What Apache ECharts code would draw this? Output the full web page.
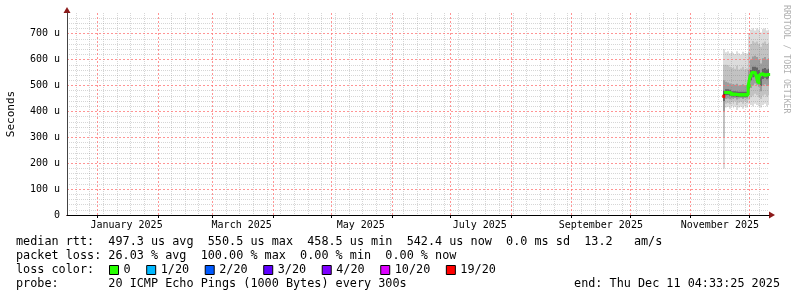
<!DOCTYPE html>
<html>
<head>
<meta charset="utf-8">
<script src="https://cdn.jsdelivr.net/npm/echarts@6/dist/echarts.min.js"></script>
<style>
html, body { margin: 0; padding: 0; background: #fff; }
#main { width: 797px; height: 297px; }
</style>
</head>
<body>
<div id="main"></div>
<script>
// time range of the graph (UTC)
var rangeStart = '2024-12-16T12:00:00Z';
var rangeEnd = '2025-12-11T04:33:25Z';

// one value per day, median rtt and ping spread in microseconds
var days = ['2025-11-18', '2025-11-19', '2025-11-20', '2025-11-21', '2025-11-22', '2025-11-23',
    '2025-11-24', '2025-11-25', '2025-11-26', '2025-11-27', '2025-11-28', '2025-11-29',
    '2025-11-30', '2025-12-01', '2025-12-02', '2025-12-03', '2025-12-04', '2025-12-05',
    '2025-12-06', '2025-12-07', '2025-12-08', '2025-12-09', '2025-12-10', '2025-12-11'];
var median = [458.5, 473, 473, 472, 466, 466, 466, 465, 464, 464, 464, 464, 464,
    499, 537, 550.5, 549, 538, 511, 543, 544, 540, 541, 542.4];
var lostPings = [19, 0, 0, 0, 0, 0, 0, 0, 0, 0, 0, 0, 0, 0, 0, 0, 0, 0, 0, 0, 0, 0, 0, 0];
var p0   = [180, 415, 418, 410, 420, 412, 418, 405, 415, 418, 410, 420, 415, 428, 425, 420, 430, 425, 420, 415, 425, 430, 420, 425];
var p10  = [300, 430, 432, 428, 435, 430, 438, 425, 433, 436, 430, 438, 432, 445, 455, 460, 468, 462, 455, 448, 460, 465, 458, 462];
var p25  = [400, 448, 450, 447, 450, 448, 452, 446, 450, 452, 448, 452, 450, 470, 490, 500, 508, 503, 495, 478, 500, 505, 498, 502];
var p40  = [440, 462, 463, 460, 458, 457, 458, 456, 456, 456, 455, 456, 456, 488, 520, 532, 535, 530, 522, 498, 525, 530, 524, 528];
var p60  = [480, 486, 486, 484, 478, 478, 478, 477, 476, 476, 476, 476, 476, 515, 560, 572, 572, 570, 560, 535, 565, 568, 562, 565];
var p75  = [520, 515, 512, 508, 505, 506, 503, 507, 500, 502, 505, 500, 502, 560, 600, 612, 615, 610, 600, 585, 605, 610, 600, 605];
var p90  = [580, 580, 578, 572, 568, 572, 565, 576, 562, 566, 572, 562, 566, 630, 660, 672, 666, 670, 660, 650, 665, 670, 660, 665];
var p100 = [640, 628, 632, 625, 630, 626, 622, 632, 625, 620, 630, 626, 624, 700, 715, 720, 712, 720, 715, 705, 718, 720, 712, 715];

// loss legend
var lossLabels = ['0', '1/20', '2/20', '3/20', '4/20', '10/20', '19/20'];
var lossLimits = [0, 1, 2, 3, 4, 10, 19];
var lossColors = ['#26ff00', '#00b8ff', '#0059ff', '#5e00ff', '#7e00ff', '#dd00ff', '#ff0000'];

// axis ticks
var yTicks = [0, 100, 200, 300, 400, 500, 600, 700];
var xLabelDates = ['2025-01-16', '2025-03-16', '2025-05-16', '2025-07-16', '2025-09-16', '2025-11-16'];
var xLabelTexts = ['January 2025', 'March 2025', 'May 2025', 'July 2025', 'September 2025', 'November 2025'];

var textLines = [
    'median rtt:  497.3 us avg  550.5 us max  458.5 us min  542.4 us now  0.0 ms sd  13.2   am/s',
    'packet loss: 26.03 % avg  100.00 % max  0.00 % min  0.00 % now',
    'loss color:',
    'probe:       20 ICMP Echo Pings (1000 Bytes) every 300s'
];
var endText = 'end: Thu Dec 11 04:33:25 2025';

var MONO = "'DejaVu Sans Mono', monospace";
var tStart = Date.parse(rangeStart);
var tEnd = Date.parse(rangeEnd);
var DAY = 86400000;

function ts(s) { return Date.parse(s + 'T00:00:00Z'); }
var times = days.map(ts);

// grid positions: month starts (major) and weeks (minor)
var monthStarts = [];
for (var m = 0; m < 12; m++) monthStarts.push(Date.UTC(2025, m, 1));
var weekLines = [];
for (var w = Date.UTC(2024, 11, 21); w < tEnd; w += 7 * DAY) {
    if (monthStarts.indexOf(w) < 0) weekLines.push(w);
}
var yMinor = [];
for (var v = 20; v < 780; v += 20) if (v % 100 !== 0) yMinor.push(v);
var xLabelPos = xLabelDates.map(ts);

var myChart = echarts.init(document.getElementById('main'));

// smoke: nested bands from widest (light) to narrowest (dark)
var bandColors = ['#dcdcdc', '#c2c2c2', '#9c9c9c', '#646464'];
var smokeData = times.map(function (t, i) {
    return [t, p0[i], p10[i], p25[i], p40[i], p60[i], p75[i], p90[i], p100[i]];
});

var series = [];
series.push({
    type: 'custom', silent: true, z: 1, clip: true,
    encode: { x: 0, y: [1, 2, 3, 4, 5, 6, 7, 8] },
    data: smokeData,
    renderItem: function (params, api) {
        var t = api.value(0);
        var children = [];
        for (var k = 0; k < 4; k++) {
            var a = api.coord([t - DAY / 2, api.value(1 + k)]);
            var b = api.coord([t + DAY / 2, api.value(8 - k)]);
            var x0 = Math.round(a[0]), x1 = Math.round(b[0]);
            children.push({
                type: 'rect',
                shape: { x: x0, y: b[1], width: x1 - x0, height: a[1] - b[1] },
                style: { fill: bandColors[k] }
            });
        }
        return { type: 'group', children: children };
    }
});
// median line
series.push({
    type: 'line', step: 'middle', symbol: 'none', silent: true, z: 5,
    lineStyle: { width: 1, color: '#202020' },
    data: median.map(function (v, i) { return [times[i], v]; })
});
// median coloured by loss
function bucket(l) {
    var b = 0;
    for (var i = 0; i < lossLimits.length; i++) if (l >= lossLimits[i]) b = i;
    return b;
}
lossLabels.forEach(function (name, k) {
    series.push({
        name: name, type: 'line', step: 'middle', z: 6, silent: true,
        color: lossColors[k],
        symbol: 'rect', symbolSize: [3, 3], showSymbol: true,
        lineStyle: { width: 3, color: lossColors[k] },
        itemStyle: { color: lossColors[k] },
        data: median.map(function (v, i) { return [times[i], bucket(lostPings[i]) === k ? v : '-']; })
    });
});

var titles = textLines.map(function (t, i) {
    return {
        text: t, left: 16, top: 236 + i * 14, padding: 0,
        textStyle: { fontFamily: MONO, fontSize: 11.8, fontWeight: 'normal', color: '#000' }
    };
});
titles.push({
    text: endText, right: 17, top: 236 + 3 * 14, padding: 0,
    textStyle: { fontFamily: MONO, fontSize: 11.8, fontWeight: 'normal', color: '#000' }
});

var minorLine = { color: 'rgba(128,128,128,0.32)', width: 1, type: [1, 1] };
var majorLine = { color: '#ff7070', opacity: 0.75, width: 1, type: [2, 2] };
var arrowRed = '#8c1a1a';

option = {
    animation: false,
    backgroundColor: '#fff',
    title: titles,
    grid: { left: 67, right: 28, top: 13, bottom: 82, containLabel: false, outerBoundsMode: 'none' },
    legend: {
        left: 109, top: 264, padding: 0,
        icon: 'rect', itemWidth: 9, itemHeight: 9, itemGap: 15.6,
        selectedMode: false,
        data: lossLabels,
        itemStyle: { borderColor: '#000', borderWidth: 1 },
        textStyle: { fontFamily: MONO, fontSize: 11.8, color: '#000' }
    },
    xAxis: [
        {   // weekly minor grid
            type: 'value', min: tStart, max: tEnd, position: 'bottom', z: 3,
            axisLine: { show: false },
            axisTick: { show: false, customValues: weekLines },
            axisLabel: { show: false },
            splitLine: { show: true, lineStyle: minorLine }
        },
        {   // monthly major grid + black axis
            type: 'value', min: tStart, max: tEnd, position: 'bottom', z: 4,
            axisLine: { show: true, onZero: false, lineStyle: { color: '#000', width: 1 } },
            axisTick: { show: true, length: 3, customValues: monthStarts, lineStyle: { color: '#000' } },
            axisLabel: { show: false },
            splitLine: { show: true, lineStyle: majorLine }
        },
        {   // labels + arrow
            type: 'value', min: tStart, max: tEnd, position: 'bottom', z: 2,
            axisLine: { show: true, onZero: false, symbol: ['none', 'triangle'], symbolSize: [7, 6], symbolOffset: [0, 3],
                lineStyle: { color: arrowRed, width: 1 } },
            axisTick: { show: false },
            splitLine: { show: false },
            axisLabel: {
                show: true, customValues: xLabelPos, margin: 5,
                fontFamily: MONO, fontSize: 10, color: '#000',
                formatter: function (val) { return xLabelTexts[xLabelPos.indexOf(val)] || ''; }
            }
        }
    ],
    yAxis: [
        {   // major grid, labels, axis line
            type: 'value', min: 0, max: 780, position: 'left', z: 4,
            name: 'Seconds', nameLocation: 'middle', nameRotate: 90, nameGap: 50,
            nameTextStyle: { fontFamily: MONO, fontSize: 11, color: '#000' },
            axisLine: { show: true, onZero: false, lineStyle: { color: '#444', width: 1 } },
            axisTick: { show: false, customValues: yTicks },
            axisLabel: {
                customValues: yTicks, margin: 7, fontFamily: MONO, fontSize: 10, color: '#000',
                formatter: function (val) { return val === 0 ? '0' : val + ' u'; }
            },
            splitLine: { show: true, lineStyle: majorLine }
        },
        {   // minor grid
            type: 'value', min: 0, max: 780, position: 'left', z: 3,
            axisLine: { show: false },
            axisTick: { show: false, customValues: yMinor },
            axisLabel: { show: false },
            splitLine: { show: true, lineStyle: minorLine }
        },
        {   // arrow
            type: 'value', min: 0, max: 780, position: 'left', z: 2,
            axisLine: { show: true, onZero: false, symbol: ['none', 'triangle'], symbolSize: [7, 6], symbolOffset: [0, 3],
                lineStyle: { color: arrowRed, width: 1 } },
            axisTick: { show: false },
            axisLabel: { show: false },
            splitLine: { show: false }
        }
    ],
    graphic: [{
        type: 'text', x: 786, y: 5, rotation: -Math.PI / 2,
        style: {
            text: 'RRDTOOL / TOBI OETIKER', font: "8.2px 'DejaVu Sans Mono'",
            fill: '#b0b0b0', textAlign: 'left', textVerticalAlign: 'middle'
        }
    }],
    series: series
};
myChart.setOption(option);
</script>
</body>
</html>
